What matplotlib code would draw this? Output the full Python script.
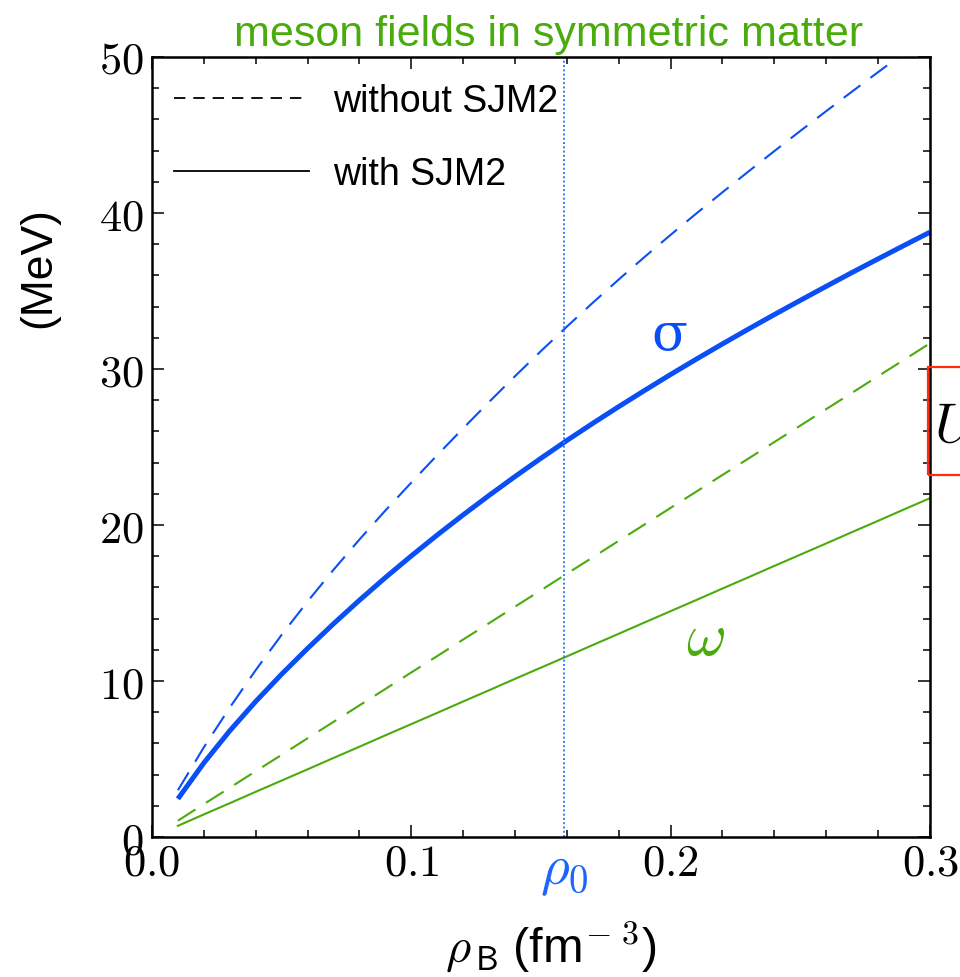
import matplotlib
matplotlib.use('Agg')
import matplotlib.pyplot as plt
import matplotlib.transforms as mtransforms
from matplotlib.lines import Line2D
from matplotlib.patches import Rectangle
from matplotlib.ticker import MultipleLocator, FuncFormatter

plt.rcParams['font.family'] = ['Liberation Sans', 'DejaVu Sans']
plt.rcParams['mathtext.fontset'] = 'cm'

# baryon density (fm^-3)
rho = [0.01, 0.02, 0.03, 0.04, 0.05, 0.06, 0.07, 0.08, 0.09, 0.10,
       0.11, 0.12, 0.13, 0.14, 0.15, 0.16, 0.17, 0.18, 0.19, 0.20,
       0.21, 0.22, 0.23, 0.24, 0.25, 0.26, 0.27, 0.28, 0.29, 0.30]
# sigma field (MeV)
sigma_with = [2.45, 4.75, 6.81, 8.69, 10.44, 12.09, 13.67, 15.18, 16.63, 18.02,
              19.36, 20.65, 21.90, 23.11, 24.28, 25.42, 26.52, 27.59, 28.63, 29.65,
              30.64, 31.61, 32.56, 33.49, 34.40, 35.30, 36.19, 37.06, 37.92, 38.77]
sigma_without = [3.0, 5.75, 8.30, 10.70, 12.96, 15.10, 17.13, 19.07, 20.93, 22.72,
                 24.48, 26.20, 27.89, 29.54, 31.15, 32.72, 34.25, 35.74, 37.19, 38.60,
                 39.98, 41.33, 42.66, 43.97, 45.26, 46.53, 47.79, 49.03, 50.26, 51.47]
# omega field (MeV)
omega_with = [0.72, 1.45, 2.17, 2.90, 3.62, 4.34, 5.07, 5.79, 6.52, 7.24,
              7.96, 8.69, 9.41, 10.14, 10.86, 11.58, 12.31, 13.03, 13.76, 14.48,
              15.20, 15.93, 16.65, 17.38, 18.10, 18.82, 19.55, 20.27, 21.00, 21.72]
omega_without = [1.05, 2.11, 3.16, 4.22, 5.27, 6.33, 7.38, 8.44, 9.49, 10.55,
                 11.60, 12.66, 13.71, 14.77, 15.82, 16.88, 17.93, 18.99, 20.04, 21.10,
                 22.15, 23.21, 24.26, 25.32, 26.37, 27.43, 28.48, 29.54, 30.59, 31.65]
rho0 = 0.159

blue = '#0a4ff5'
green = '#4aab0c'

fig = plt.figure(figsize=(9.6, 9.78), dpi=100)
ax = fig.add_axes([0.1583, 0.1431, 0.8104, 0.7976])

ax.plot(rho, sigma_without, color=blue, lw=1.5, dashes=(10, 6))
ax.plot(rho, sigma_with, color=blue, lw=3.6, solid_capstyle='butt')
ax.plot(rho, omega_without, color=green, lw=1.5, dashes=(10, 6))
ax.plot(rho, omega_with, color=green, lw=1.5)
ax.axvline(rho0, color='#3a7ff5', lw=1.4, ls=(0, (1, 1.2)))

ax.set_xlim(0, 0.3)
ax.set_ylim(0, 50)
ax.xaxis.set_major_locator(MultipleLocator(0.1))
ax.xaxis.set_minor_locator(MultipleLocator(0.02))
ax.yaxis.set_major_locator(MultipleLocator(10))
ax.yaxis.set_minor_locator(MultipleLocator(2))
ax.xaxis.set_major_formatter(FuncFormatter(lambda v, p: r'$%.1f$' % v))
ax.yaxis.set_major_formatter(FuncFormatter(lambda v, p: r'$%d$' % round(v)))
ax.tick_params(which='both', direction='in', top=True, right=True, width=1.1)
ax.tick_params(which='major', length=8.5, labelsize=32)
ax.tick_params(which='minor', length=5)
ax.tick_params(axis='x', pad=4)
ax.tick_params(axis='y', pad=6)
for s in ax.spines.values():
    s.set_linewidth(1.8)

ax.text(0.1996, 32.2, 'σ', color=blue, fontsize=38, family='DejaVu Serif',
        ha='center', va='center')
ax.text(0.2135, 12.7, r'$\omega$', color=green, fontsize=44,
        ha='center', va='center')

trans = mtransforms.blended_transform_factory(ax.transData, ax.transAxes)
ax.text(rho0, -0.01, r'$\rho_0$', color='#1a66ff', fontsize=40,
        transform=trans, ha='center', va='top')

handles = [Line2D([], [], color='k', lw=1.3, dashes=(6.3, 4.4)),
           Line2D([], [], color='k', lw=1.3)]
ax.legend(handles, ['without SJM2', 'with SJM2'], loc='upper left',
          bbox_to_anchor=(0.0, 0.995), frameon=False, fontsize=27,
          borderaxespad=0.2, borderpad=0.4,
          handlelength=3.6, handletextpad=0.62, labelspacing=0.98)

fig.text(0.571, 0.953, 'meson fields in symmetric matter', color=green,
         fontsize=31, ha='center', va='baseline')
fig.text(0.574, 0.0155, r'$\rho_{\,\mathsf{B}}\;$(fm$^{\mathsf{-\ 3}}$)',
         fontsize=35, ha='center', va='baseline')
fig.text(0.04, 0.726, '(MeV)', fontsize=32, rotation=90,
         ha='center', va='center')

# cropped red frame at the right edge
fig.patches.append(Rectangle((928 / 960, 1 - 476 / 978), 0.1, 108 / 978,
                             transform=fig.transFigure, fill=False,
                             edgecolor='#ff2a10', lw=1.6, figure=fig))
fig.text(0.973, 0.5624, r'$U$', fontsize=40, ha='left', va='center')

fig.savefig('out.png', dpi=100)
